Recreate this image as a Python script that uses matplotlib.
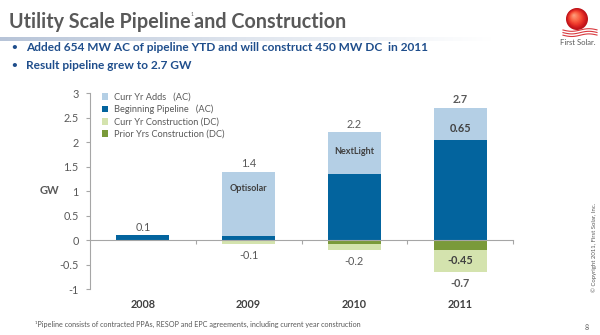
import numpy as np
import matplotlib
matplotlib.use("Agg")
import matplotlib.pyplot as plt
from matplotlib.patches import Circle

plt.rcParams['font.family'] = ['Lato', 'DejaVu Sans']

# ---- data (GW) ----
years = ["2008", "2009", "2010", "2011"]
beginning_pipeline = [0.10, 0.08, 1.34, 2.05]
curr_yr_adds = [0.00, 1.32, 0.86, 0.65]
prior_yrs_construction = [0.00, 0.00, -0.07, -0.20]
curr_yr_construction = [0.00, -0.08, -0.13, -0.45]
total_labels = ["0.1", "1.4", "2.2", "2.7"]
neg_labels = ["", "-0.1", "-0.2", "-0.7"]
inside_labels = ["", "Optisolar", "NextLight", "0.65"]
inside_frac = [0.0, 0.74, 0.55, 0.34]   # where the inside label sits within the "adds" block

C_LBLUE = "#b4cfe5"
C_DBLUE = "#03649e"
C_LGREEN = "#d4e3ae"
C_DGREEN = "#7a9a3a"
GREY = "#595959"
NAVY = "#1f4e8c"

fig = plt.figure(figsize=(6.0, 3.35), dpi=100)
fig.patch.set_facecolor("white")
renderer = fig.canvas.get_renderer()

# ---- header: title with a tiny footnote mark ----
t1 = fig.text(0.015, 0.935, "Utility Scale Pipeline", fontsize=14.2,
              fontweight="bold", color=GREY, va="center")
bb = t1.get_window_extent(renderer).transformed(fig.transFigure.inverted())
t2 = fig.text(bb.x1 + 0.0005, 0.958, "1", fontsize=3.5, color=GREY, va="center")
bb2 = t2.get_window_extent(renderer).transformed(fig.transFigure.inverted())
fig.text(bb2.x1 + 0.001, 0.935, "and Construction", fontsize=14.2,
         fontweight="bold", color=GREY, va="center")

# gradient rule under the title
bar_ax = fig.add_axes([0.0, 0.878, 0.82, 0.012])
grad = np.linspace(0, 1, 256).reshape(1, -1)
bar_ax.imshow(grad, aspect="auto", cmap=matplotlib.colors.LinearSegmentedColormap.from_list(
    "rule", ["#b7c4d8", "#dfe5ee", "#ffffff"]))
bar_ax.axis("off")

bullets = ["Added 654 MW AC of pipeline YTD and will construct 450 MW DC  in 2011",
           "Result pipeline grew to 2.7 GW"]
for i, b in enumerate(bullets):
    y = 0.858 - i * 0.055
    fig.text(0.018, y, "\u2022", fontsize=7, color=NAVY, va="center", fontweight="bold")
    fig.text(0.043, y, b, fontsize=8.6, color=NAVY, va="center", fontweight="bold")

# ---- logo (drawn in pixel units of the page) ----
logo = fig.add_axes([550 / 600, 1 - 40 / 335, 50 / 600, 38 / 335])
logo.set_xlim(550, 600)
logo.set_ylim(40, 2)
logo.set_aspect("equal")
logo.axis("off")
for r, c in zip(np.linspace(11, 1, 12),
                plt.cm.Reds(np.linspace(0.8, 0.35, 12))):
    logo.add_patch(Circle((577 - (11 - r) * 0.3, 19 - (11 - r) * 0.35), r, color=c, lw=0))
wx = np.linspace(563, 597, 60)
for k in range(3):
    logo.plot(wx, 30 + k * 2.6 + 1.3 * np.sin((wx - 563) / 5.5), color="#d9393e", lw=0.8)
fig.text(0.963, 0.872, "First Solar.", fontsize=5.5, color=GREY, ha="center", va="center")

# ---- chart ----
ax = fig.add_axes([0.15, 0.137, 0.705, 0.585])
x = np.arange(len(years))
w = 0.5

ax.bar(x, beginning_pipeline, w, color=C_DBLUE, label="Beginning Pipeline   (AC)", zorder=2)
ax.bar(x, curr_yr_adds, w, bottom=beginning_pipeline, color=C_LBLUE,
       label="Curr Yr Adds   (AC)", zorder=2)
ax.bar(x, prior_yrs_construction, w, color=C_DGREEN,
       label="Prior Yrs Construction (DC)", zorder=2)
ax.bar(x, curr_yr_construction, w, bottom=prior_yrs_construction, color=C_LGREEN,
       label="Curr Yr Construction (DC)", zorder=2)

ax.set_xlim(-0.5, 3.5)
ax.set_ylim(-1, 3)
ax.set_yticks([-1, -0.5, 0, 0.5, 1, 1.5, 2, 2.5, 3])
ax.set_yticklabels(["-1", "-0.5", "0", "0.5", "1", "1.5", "2", "2.5", "3"])
ax.tick_params(axis="y", colors="#a6a6a6", labelcolor=GREY, labelsize=7.8,
               length=3, direction="out", pad=5)
ax.set_xticks([0.5, 1.5, 2.5, 3.5])
ax.set_xticklabels([])
ax.tick_params(axis="x", colors="#a6a6a6", length=3, direction="out")
for s in ["top", "right"]:
    ax.spines[s].set_visible(False)
ax.spines["bottom"].set_position(("data", 0))
ax.spines["bottom"].set_color("#a6a6a6")
ax.spines["left"].set_color("#a6a6a6")
ax.spines["bottom"].set_zorder(3)

for i, yr in enumerate(years):
    ax.text(i, -1.32, yr, ha="center", va="center", fontsize=7.8,
            fontweight="bold", color="#404040")

fig.text(0.082, 1 - 191 / 335, "GW", ha="center", va="center", fontsize=8,
         fontweight="bold", color=GREY)

# value labels
for i in range(len(years)):
    top = beginning_pipeline[i] + curr_yr_adds[i]
    bottom = prior_yrs_construction[i] + curr_yr_construction[i]
    bold = "bold" if i == 3 else "normal"
    ax.text(i, top + 0.05, total_labels[i], ha="center", va="bottom", fontsize=7.8,
            color=GREY, fontweight=bold)
    if neg_labels[i]:
        ax.text(i, bottom - 0.12, neg_labels[i], ha="center", va="top", fontsize=7.8,
                color=GREY, fontweight=bold)
    if inside_labels[i]:
        ymid = beginning_pipeline[i] + curr_yr_adds[i] * inside_frac[i]
        ax.text(i, ymid, inside_labels[i], ha="center", va="center",
                fontsize=6.5 if i < 3 else 7.8, fontweight="bold", color="#404040")
ax.text(3, prior_yrs_construction[3] + curr_yr_construction[3] / 2, "-0.45",
        ha="center", va="center", fontsize=7.8, fontweight="bold", color="#404040")

handles, labels = ax.get_legend_handles_labels()
order = [1, 0, 3, 2]
leg = ax.legend([handles[k] for k in order], [labels[k] for k in order],
                loc="upper left", bbox_to_anchor=(0.015, 1.03), frameon=False,
                fontsize=6.7, handlelength=0.7, handleheight=0.7,
                handletextpad=0.6, labelspacing=0.33, borderaxespad=0.2)
for t in leg.get_texts():
    t.set_color(GREY)

# ---- footer ----
fig.text(0.058, 0.03, "\u00b9Pipeline consists of contracted PPAs, RESOP and EPC agreements, "
         "including current year construction", fontsize=5.2, color=GREY, va="center")
fig.text(0.977, 0.022, "8", fontsize=5, color=GREY, ha="center", va="center")
fig.text(0.99, 0.26, "\u00a9 Copyright 2011, First Solar, Inc.", fontsize=4.3, color=GREY,
         rotation=90, ha="center", va="center")

fig.savefig("out.png", dpi=100, facecolor="white")
